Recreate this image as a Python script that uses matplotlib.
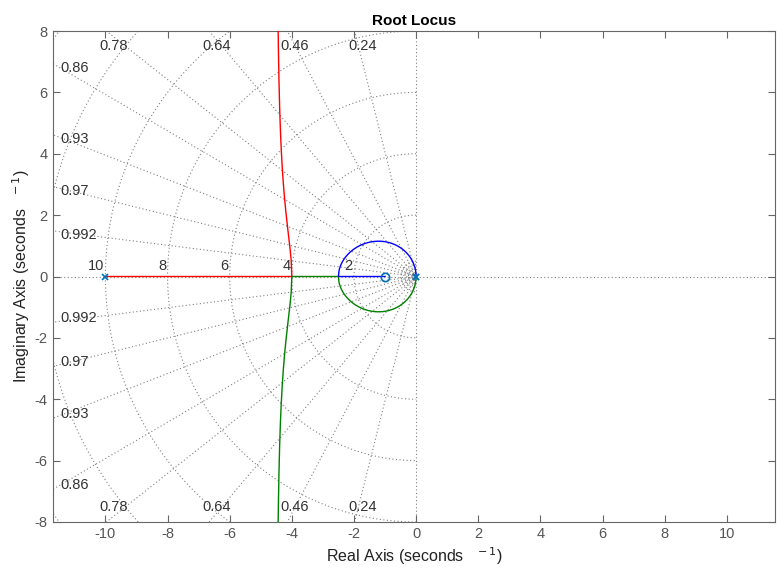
import numpy as np
import matplotlib.pyplot as plt

plt.rcParams['font.family'] = ['Liberation Sans', 'DejaVu Sans']
plt.rcParams['axes.unicode_minus'] = False

# transfer function G(s) = (s + 1) / (s^2 (s + 10))
num = [1, 1]
den = [1, 10, 0, 0]
poles = [0, 0, -10]
zeros = [-1]

# grid values
zeta_top = [0.24, 0.46, 0.64, 0.78]
zeta_side = [0.86, 0.93, 0.97, 0.992]
wn_circles = [0.1, 0.2, 0.3, 0.4, 0.5, 2, 4, 6, 8, 10, 12, 14, 16]
wn_labels = [2, 4, 6, 8, 10]

xticks = [-10, -8, -6, -4, -2, 0, 2, 4, 6, 8, 10]
yticks = [-8, -6, -4, -2, 0, 2, 4, 6, 8]

xmin, xmax = -11.7, 11.55
ymin, ymax = -8, 8

# gains, with the break points K=31.25 and K=32 included
gains = np.concatenate([np.linspace(0, 31.25, 600),
                        np.linspace(31.25, 32, 200),
                        np.linspace(32, 300, 1500),
                        np.logspace(np.log10(300), 4, 200)])

red, green, blue = [], [], []
tol = 1e-6
for k in gains:
    r = np.roots(np.polyadd(den, k * np.array(num)))
    cplx = [z for z in r if abs(z.imag) > tol]
    real = sorted([z.real for z in r if abs(z.imag) <= tol])
    if len(cplx) == 2:
        up = max(cplx, key=lambda z: z.imag)
        lo = min(cplx, key=lambda z: z.imag)
        rr = real[0]
        if rr < -3:
            red.append(rr + 0j); blue.append(up); green.append(lo)
        else:
            blue.append(rr + 0j); red.append(up); green.append(lo)
    else:
        red.append(real[0] + 0j); green.append(real[1] + 0j); blue.append(real[2] + 0j)

red = np.array(red); green = np.array(green); blue = np.array(blue)

fig = plt.figure(figsize=(7.77, 5.68), dpi=100)
ax = fig.add_axes([0.0677, 0.081, 0.9297, 0.8644])

gc = '#808080'
dash = (1, 2.2)
R = 40

# zeta lines
for z in zeta_top + zeta_side:
    th = np.arccos(z)
    for sgn in (1, -1):
        ax.plot([0, -R * np.cos(th)], [0, sgn * R * np.sin(th)], color=gc,
                lw=0.8, dashes=dash, zorder=1)
# wn circles (left half plane)
phi = np.linspace(np.pi / 2, 3 * np.pi / 2, 400)
for w in wn_circles:
    ax.plot(w * np.cos(phi), w * np.sin(phi), color=gc, lw=0.8, dashes=dash, zorder=1)
ax.axhline(0, color=gc, lw=0.8, dashes=dash, zorder=1)
ax.axvline(0, color=gc, lw=0.8, dashes=dash, zorder=1)

# zeta labels
for z in zeta_top:
    th = np.arccos(z)
    xe = -ymax / np.tan(th)
    for sgn in (1, -1):
        ax.text(xe + 0.25, sgn * 7.5, str(z), ha='center', va='center',
                fontsize=10.5, color='#333333', zorder=3)
for z in zeta_side:
    th = np.arccos(z)
    ye = -xmin * np.tan(th)
    for sgn in (1, -1):
        ax.text(-11.45, sgn * (ye - 0.15), str(z), ha='left', va='center',
                fontsize=10.5, color='#333333', zorder=3)
for w in wn_labels:
    ax.text(-w - 0.05, 0.1, str(w), ha='right', va='bottom', fontsize=10.5,
            color='#333333', zorder=3)

# root locus branches
ax.plot(red.real, red.imag, color='#ff0000', lw=1, zorder=4)
ax.plot(green.real, green.imag, color='#008000', lw=1, zorder=4)
ax.plot(blue.real, blue.imag, color='#0000ff', lw=1, zorder=4)

ax.plot(poles, np.zeros(len(poles)), 'x', color='#0072bd', ms=5, mew=1.2, zorder=5)
ax.plot(zeros, np.zeros(len(zeros)), 'o', color='#0072bd', mfc='none', ms=6,
        mew=1.2, zorder=5)

ax.set_xlim(xmin, xmax)
ax.set_ylim(ymin, ymax)
ax.set_xticks(xticks)
ax.set_yticks(yticks)
ax.tick_params(direction='in', top=True, right=True, length=5, color='#666666',
               labelcolor='#555555', labelsize=10.5)
for s in ax.spines.values():
    s.set_color('#666666')

ax.set_title('Root Locus', fontsize=11, fontweight='bold', pad=4)
ax.set_xlabel(r'Real Axis (seconds $^{\ \ -1}$)', fontsize=11.5, color='#222222', labelpad=3)
ax.set_ylabel(r'Imaginary Axis (seconds $^{\ \ -1}$)', fontsize=11.5, color='#222222', labelpad=2)

fig.savefig('out.png', dpi=100)
